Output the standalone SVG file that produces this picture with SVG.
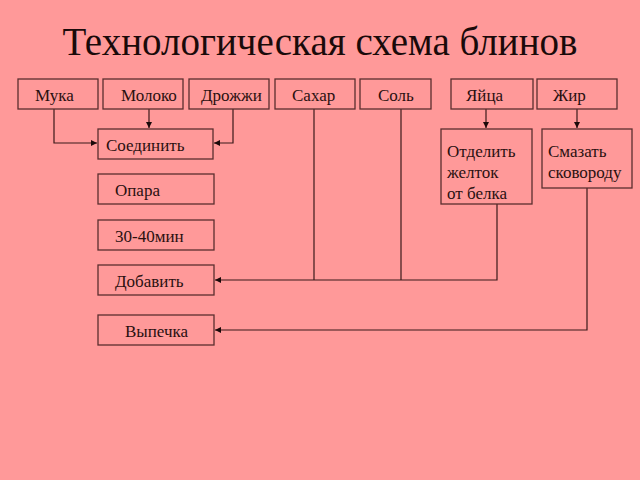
<svg xmlns="http://www.w3.org/2000/svg" width="640" height="480" viewBox="0 0 640 480">
<defs>
<style>
.box{fill:#ff9999;stroke:#5a2e2e;stroke-width:1.3}
.t{font-family:"Liberation Serif","DejaVu Serif",serif;font-size:17px;fill:#2a1010}
.ln{fill:none;stroke:#3a1a1a;stroke-width:1.2}
</style>
<marker id="ah" viewBox="0 0 8 8" refX="8" refY="4" markerWidth="6" markerHeight="6" orient="auto" markerUnits="userSpaceOnUse">
<path d="M0,0 L8,4 L0,8 Z" fill="#1a0a0a"/>
</marker>
</defs>
<rect width="640" height="480" fill="#ff9999"/>
<text x="320" y="55" text-anchor="middle" font-family="Liberation Serif, DejaVu Serif, serif" font-size="39" fill="#1a0a0a">Технологическая схема блинов</text>
<g id="connectors">
<path class="ln" d="M54,109 V143 H97" marker-end="url(#ah)"/>
<path class="ln" d="M149,109 V128" marker-end="url(#ah)"/>
<path class="ln" d="M233,109 V143 H214" marker-end="url(#ah)"/>
<path class="ln" d="M486,109 V128" marker-end="url(#ah)"/>
<path class="ln" d="M577,109 V128" marker-end="url(#ah)"/>
<path class="ln" d="M314,109 V280"/>
<path class="ln" d="M401,109 V280"/>
<path class="ln" d="M497,204 V280 H215" marker-end="url(#ah)"/>
<path class="ln" d="M587,188 V330 H215" marker-end="url(#ah)"/>
</g>
<g id="muka"><rect class="box" x="18" y="79" width="80" height="30"/><text class="t" x="35" y="101">Мука</text></g>
<g id="moloko"><rect class="box" x="103" y="79" width="80" height="30"/><text class="t" x="121" y="101">Молоко</text></g>
<g id="drozhzhi"><rect class="box" x="189" y="79" width="80" height="30"/><text class="t" x="201" y="101">Дрожжи</text></g>
<g id="sahar"><rect class="box" x="275" y="79" width="80" height="30"/><text class="t" x="292" y="101">Сахар</text></g>
<g id="sol"><rect class="box" x="360" y="79" width="71" height="30"/><text class="t" x="378" y="101">Соль</text></g>
<g id="yaytsa"><rect class="box" x="451" y="79" width="82" height="30"/><text class="t" x="466" y="101">Яйца</text></g>
<g id="zhir"><rect class="box" x="537" y="79" width="80" height="30"/><text class="t" x="553" y="101">Жир</text></g>
<g id="soedinit"><rect class="box" x="98" y="129" width="115" height="30"/><text class="t" x="106" y="151">Соединить</text></g>
<g id="otdelit"><rect class="box" x="441" y="129" width="91" height="75"/><text class="t" x="447" y="157">Отделить</text><text class="t" x="447" y="178">желток</text><text class="t" x="447" y="199">от белка</text></g>
<g id="smazat"><rect class="box" x="542" y="129" width="90" height="59"/><text class="t" x="548" y="157">Смазать</text><text class="t" x="548" y="178">сковороду</text></g>
<g id="opara"><rect class="box" x="98" y="174" width="116" height="30"/><text class="t" x="115" y="196">Опара</text></g>
<g id="vremya"><rect class="box" x="98" y="220" width="116" height="30"/><text class="t" x="115" y="242">30-40мин</text></g>
<g id="dobavit"><rect class="box" x="98" y="265" width="116" height="30"/><text class="t" x="115" y="287">Добавить</text></g>
<g id="vypechka"><rect class="box" x="98" y="315" width="116" height="30"/><text class="t" x="125" y="337">Выпечка</text></g>
</svg>
